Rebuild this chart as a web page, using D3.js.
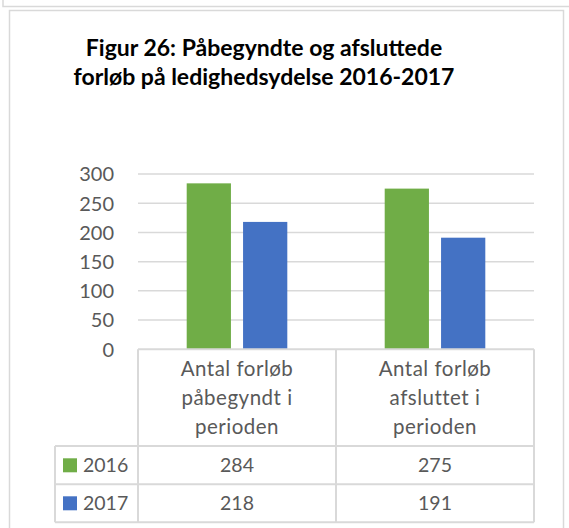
<!DOCTYPE html>
<html>
<head>
<meta charset="utf-8">
<script src="https://cdn.jsdelivr.net/npm/d3@7"></script>
<style>
  body { margin: 0; background: #fff; }
  text { font-family: Lato, "Noto Sans", sans-serif; }
</style>
</head>
<body>
<div id="main"></div>
<script>
// chart data
var categories = [
  ["Antal forløb", "påbegyndt i", "perioden"],
  ["Antal forløb", "afsluttet i", "perioden"]
];
var seriesNames = ["2016", "2017"];
var values2016 = [284, 275];
var values2017 = [218, 191];
var yTicks = [0, 50, 100, 150, 200, 250, 300];
var titleLines = ["Figur 26: Påbegyndte og afsluttede", "forløb på ledighedsydelse 2016-2017"];

var colors = ["#70AD47", "#4472C4"];
var series = [values2016, values2017];

var W = 569, H = 528;
var plot = {left: 138, right: 534, top: 174, bottom: 349.3};
var legendLeft = 55;
var rowBottoms = [446, 484.3, 522.3];

var svg = d3.select("#main")
  .append("svg")
    .attr("width", W)
    .attr("height", H);

// frames
svg.append("path")
  .attr("d", "M3,0V6.5H569")
  .attr("fill", "none")
  .attr("stroke", "#d9d9d9")
  .attr("stroke-width", 1.5);
svg.append("path")
  .attr("d", "M9.5,528V10.5H563.5V528")
  .attr("fill", "none")
  .attr("stroke", "#d9d9d9")
  .attr("stroke-width", 1.5);

// title
svg.append("text")
  .attr("text-anchor", "middle")
  .attr("font-weight", "bold")
  .attr("font-size", 23)
  .attr("fill", "#000")
  .selectAll("tspan")
  .data(titleLines)
  .enter().append("tspan")
    .attr("x", 264)
    .attr("y", function(d, i) { return 56 + i * 29; })
    .text(function(d) { return d; });

var x0 = d3.scaleBand()
  .domain(d3.range(categories.length))
  .range([plot.left, plot.right]);

var x1 = d3.scaleBand()
  .domain(d3.range(seriesNames.length))
  .range([0, 100.6])
  .paddingInner(0.215);

var y = d3.scaleLinear()
  .domain([0, 300])
  .range([plot.bottom, plot.top]);

// gridlines
svg.append("g")
  .selectAll("line")
  .data(yTicks.slice(1))
  .enter().append("line")
    .attr("x1", plot.left)
    .attr("x2", plot.right)
    .attr("y1", function(d) { return y(d); })
    .attr("y2", function(d) { return y(d); })
    .attr("stroke", "#d9d9d9")
    .attr("stroke-width", 1.5);

// y axis labels
svg.append("g")
  .selectAll("text")
  .data(yTicks)
  .enter().append("text")
    .attr("x", 114)
    .attr("y", function(d) { return y(d) + 7.3; })
    .attr("text-anchor", "end")
    .attr("font-size", 20)
    .attr("fill", "#595959")
    .text(function(d) { return d; });

// bars
var offset = (x0.bandwidth() - 100.6) / 2;
series.forEach(function(vals, s) {
  svg.append("g")
    .selectAll("rect")
    .data(vals)
    .enter().append("rect")
      .attr("x", function(d, i) { return x0(i) + offset + x1(s); })
      .attr("width", x1.bandwidth())
      .attr("y", function(d) { return y(d); })
      .attr("height", function(d) { return y(0) - y(d); })
      .attr("fill", colors[s]);
});

// data table
var grid = svg.append("g")
  .attr("stroke", "#d9d9d9")
  .attr("stroke-width", 2)
  .attr("fill", "none");

// header verticals
x0.domain().concat([categories.length]).forEach(function(i) {
  var xx = i < categories.length ? x0(i) : plot.right;
  grid.append("line")
    .attr("x1", xx).attr("x2", xx)
    .attr("y1", plot.bottom).attr("y2", rowBottoms[2]);
});
grid.append("line")
  .attr("x1", plot.left).attr("x2", plot.right)
  .attr("y1", plot.bottom).attr("y2", plot.bottom);
grid.append("line")
  .attr("x1", legendLeft).attr("x2", legendLeft)
  .attr("y1", rowBottoms[0]).attr("y2", rowBottoms[2]);
rowBottoms.forEach(function(yy) {
  grid.append("line")
    .attr("x1", legendLeft).attr("x2", plot.right)
    .attr("y1", yy).attr("y2", yy);
});

// category labels
categories.forEach(function(lines, i) {
  svg.append("text")
    .attr("text-anchor", "middle")
    .attr("font-size", 20.5)
    .attr("letter-spacing", 0.5)
    .attr("fill", "#595959")
    .selectAll("tspan")
    .data(lines)
    .enter().append("tspan")
      .attr("x", x0(i) + x0.bandwidth() / 2)
      .attr("y", function(d, k) { return 376 + k * 29; })
      .text(function(d) { return d; });
});

// series rows
var rowBase = [472.3, 510.3];
series.forEach(function(vals, s) {
  svg.append("rect")
    .attr("x", 63)
    .attr("y", rowBase[s] - 14)
    .attr("width", 14)
    .attr("height", 14)
    .attr("fill", colors[s]);
  svg.append("text")
    .attr("x", 83)
    .attr("y", rowBase[s])
    .attr("font-size", 19.5)
    .attr("fill", "#595959")
    .text(seriesNames[s]);
  svg.append("g")
    .selectAll("text")
    .data(vals)
    .enter().append("text")
      .attr("x", function(d, i) { return x0(i) + x0.bandwidth() / 2; })
      .attr("y", rowBase[s])
      .attr("text-anchor", "middle")
      .attr("font-size", 19.5)
      .attr("fill", "#595959")
      .text(function(d) { return d; });
});
</script>
</body>
</html>
